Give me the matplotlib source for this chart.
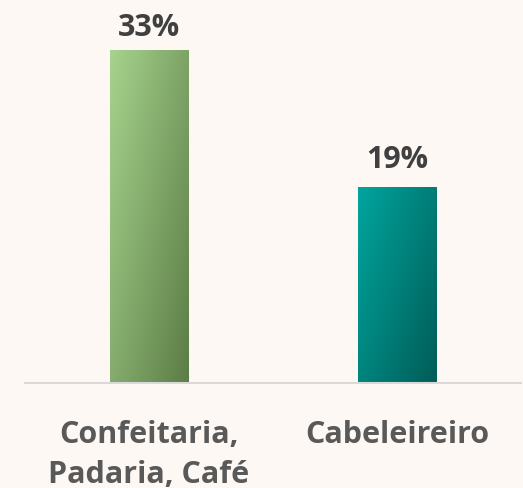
import numpy as np
import matplotlib.pyplot as plt
from matplotlib.colors import LinearSegmentedColormap, to_rgb

categories = ['Confeitaria,\nPadaria, Café', 'Cabeleireiro']
values = [33.0, 19.4]
labels = ['33%', '19%']
grad_colors = [('#A6D38D', '#5C7D46'), ('#00A59E', '#005C57')]

plt.rcParams['font.family'] = ['Open Sans', 'DejaVu Sans']
bg = '#FDF8F4'

fig = plt.figure(figsize=(5.23, 4.89), dpi=100, facecolor=bg)
ax = fig.add_axes([25 / 523, 105 / 489, 496 / 523, 384 / 489])
ax.set_facecolor(bg)

x = np.arange(len(categories))
bars = ax.bar(x, values, width=0.315, color='none', edgecolor='none')
ax.set_xlim(-0.5, 1.5)
ax.set_ylim(0, 38.06)

# diagonal gradient fill clipped to each bar (light top-left, dark bottom-right)
gx, gy = np.meshgrid(np.linspace(0, 1, 100), np.linspace(0, 1, 200))
for bar, (c1, c2) in zip(bars, grad_colors):
    cmap = LinearSegmentedColormap.from_list('g', [to_rgb(c1), to_rgb(c2)])
    t = 0.55 * gx + 0.45 * gy
    bx, bw, bh = bar.get_x(), bar.get_width(), bar.get_height()
    im = ax.imshow(t, cmap=cmap, extent=[bx, bx + bw, 0, bh], origin='upper',
                   aspect='auto', vmin=0, vmax=1, zorder=2, interpolation='bilinear')
    im.set_clip_path(bar)

# value labels, kept inside the top of the chart
for bar, lab in zip(bars, labels):
    ly = min(bar.get_height() + 2.04, 34.52)
    ax.text(bar.get_x() + bar.get_width() / 2, ly, lab,
            ha='center', va='baseline', fontsize=22, fontweight='bold', color='#404040')

ax.set_xticks(x)
ax.set_xticklabels(categories, fontsize=22, fontweight='bold', color='#595959',
                   linespacing=1.42, va='top')
ax.tick_params(axis='x', length=0, pad=26)
ax.set_yticks([])
for s in ['top', 'right', 'left']:
    ax.spines[s].set_visible(False)
ax.spines['bottom'].set_color('#D9D9D9')
ax.spines['bottom'].set_linewidth(1.5)
ax.spines['bottom'].set_zorder(3)

fig.savefig('out.png', dpi=100, facecolor=bg)
